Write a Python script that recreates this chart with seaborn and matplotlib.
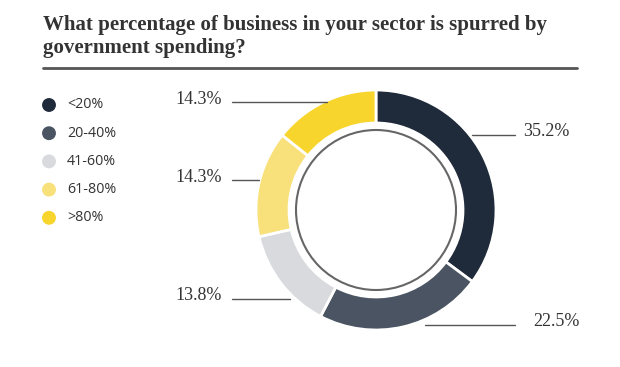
import matplotlib
matplotlib.use("Agg")
import matplotlib.pyplot as plt
import seaborn as sns

categories = ["<20%", "20-40%", "41-60%", "61-80%", ">80%"]
shares = [35.2, 22.5, 13.8, 14.3, 14.3]
share_labels = ["35.2%", "22.5%", "13.8%", "14.3%", "14.3%"]
colors = ["#1f2a3a", "#4a5462", "#d9dadd", "#f8e07a", "#f7d52c"]
title_lines = ["What percentage of business in your sector is spurred by",
               "government spending?"]

sns.set_theme(style="white")
W, H = 620, 367
fig = plt.figure(figsize=(W / 100, H / 100), dpi=100)
ax = fig.add_axes([0, 0, 1, 1])


def Y(y):
    # pixel row (from top) -> data y
    return H - y


# donut
cx, cy, r = 376, Y(210), 120
ax.pie(shares, colors=colors, startangle=90, counterclock=False, center=(cx, cy), radius=r,
       wedgeprops=dict(width=33, edgecolor="white", linewidth=2), frame=True)
ax.set_xlim(0, W)
ax.set_ylim(0, H)
ax.set_aspect("equal")
ax.axis("off")
ax.add_patch(plt.Circle((cx, cy), 80, fill=False, edgecolor="#666666", lw=1.5))

# title and rule
for i, line in enumerate(title_lines):
    ax.text(43, Y(30 + 23 * i), line, family="Liberation Serif", weight="bold",
            fontsize=15, color="#333333", va="baseline", ha="left")
ax.plot([43, 577], [Y(68), Y(68)], color="#555555", lw=2)

# labels with leader lines: (line start x, line end x, y, text x, align)
leaders = [
    (472, 515, 135, 523, "left"),
    (425, 515, 325, 533, "left"),
    (290, 232, 299, 222, "right"),
    (259, 232, 180, 222, "right"),
    (327, 232, 102, 222, "right"),
]
for lab, (x0, x1, y, tx, ha) in zip(share_labels, leaders):
    ax.plot([x0, x1], [Y(y), Y(y)], color="#555555", lw=1)
    ax.text(tx, Y(y) + 3, lab, family="Liberation Serif", fontsize=13, color="#333333",
            ha=ha, va="center")

# legend
for i, (cat, col) in enumerate(zip(categories, colors)):
    yy = Y(105 + 28.2 * i)
    ax.scatter([49], [yy], s=100, color=col, edgecolor="none")
    ax.text(67, yy, cat, family="Open Sans", fontsize=10.3, color="#333333", va="center")

fig.savefig("out.png", dpi=100)
